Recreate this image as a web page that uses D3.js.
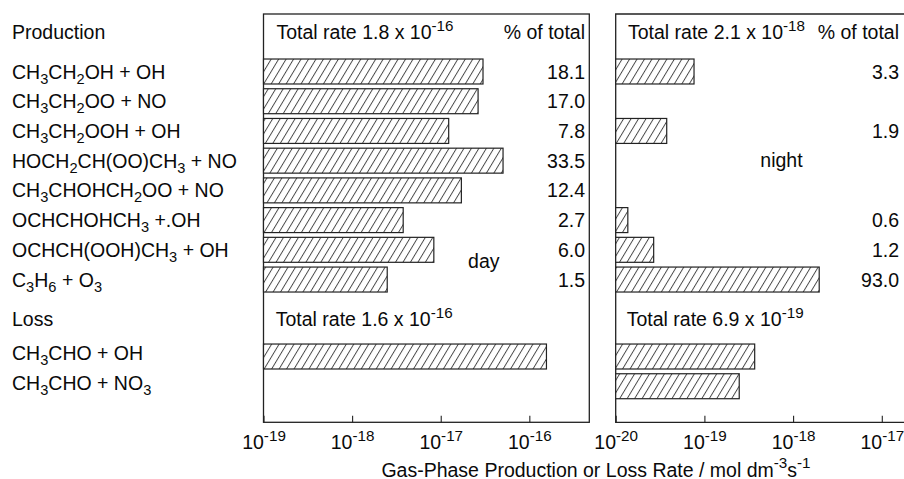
<!DOCTYPE html>
<html><head><meta charset="utf-8">
<script src="https://cdn.jsdelivr.net/npm/d3@7"></script>
<style>
body{margin:0;background:#fff}
svg text{font-family:"Liberation Sans",Arial,Helvetica,sans-serif;fill:#0a0a0a;font-size:19.5px}
</style>
</head><body>
<svg id="c" width="904" height="479"></svg>
<script>
// ---------------- data ----------------
const productionLabels = [
  "CH_3CH_2OH + OH",
  "CH_3CH_2OO + NO",
  "CH_3CH_2OOH + OH",
  "HOCH_2CH(OO)CH_3 + NO",
  "CH_3CHOHCH_2OO + NO",
  "OCHCHOHCH_3 +.OH",
  "OCHCH(OOH)CH_3 + OH",
  "C_3H_6 + O_3"
];
const lossLabels = ["CH_3CHO + OH", "CH_3CHO + NO_3"];

const dayProduction   = [3.0e-17, 2.64e-17, 1.23e-17, 5.05e-17, 1.71e-17, 3.77e-18, 8.36e-18, 2.49e-18];
const nightProduction = [7.64e-20, null, 3.76e-20, null, null, 1.37e-20, 2.68e-20, 1.97e-18];
const dayProductionPct   = ["18.1", "17.0", "7.8", "33.5", "12.4", "2.7", "6.0", "1.5"];
const nightProductionPct = ["3.3", "", "1.9", "", "", "0.6", "1.2", "93.0"];
const dayLoss   = [1.56e-16, null];
const nightLoss = [3.69e-19, 2.47e-19];

const dayTicks = [1e-19, 1e-18, 1e-17, 1e-16];
const nightTicks = [1e-20, 1e-19, 1e-18, 1e-17];
const dayTickLabels = ["10^{-19}", "10^{-18}", "10^{-17}", "10^{-16}"];
const nightTickLabels = ["10^{-20}", "10^{-19}", "10^{-18}", "10^{-17}"];

const dayProdHeader = "Total rate 1.8 x 10^{-16}";
const nightProdHeader = "Total rate 2.1 x 10^{-18}";
const dayLossHeader = "Total rate 1.6 x 10^{-16}";
const nightLossHeader = "Total rate 6.9 x 10^{-19}";
const pctHeader = "% of total";
const sectionTitles = ["Production", "Loss"];
const axisTitle = "Gas-Phase Production or Loss Rate / mol dm^{-3}s^{-1}";
const dayNote = {text: "day", value: 3.06e-17, slot: 6.61};
const nightNote = {text: "night", value: 7.4e-19, slot: 3.21};

// ---------------- layout ----------------
const svg = d3.select("#c");
const ink = "#222";
const panelTop = 14, axisY = 422.3;
const lossSlot0 = 9.59;
const xDay = d3.scaleLog().domain([1e-19, 4.75e-16]).range([263.5, 589.3]);
const xNight = d3.scaleLog().domain([1e-20, 1.875e-17]).range([615.7, 906]);
const yS = d3.scaleLinear().domain([0, 1]).range([71.5, 101.22]);
const bh = (yS(1) - yS(0)) * 0.84;

// hatch pattern
const defs = svg.append("defs");
const pat = defs.append("pattern").attr("id", "hatch")
  .attr("patternUnits", "userSpaceOnUse").attr("width", 6.4).attr("height", 20)
  .attr("patternTransform", "rotate(31)");
pat.append("rect").attr("width", 6.4).attr("height", 20).attr("fill", "#fff");
pat.append("line").attr("x1", 0.5).attr("x2", 0.5).attr("y1", 0).attr("y2", 20)
  .attr("stroke", "#333").attr("stroke-width", 0.9);

// rich text helper
function rich(sel, str) {
  const toks = str.match(/(_\{[^}]*\}|_.|\^\{[^}]*\}|[^_^]+)/g) || [];
  let shift = 0;
  toks.forEach(t => {
    let type = "n", txt = t;
    if (t[0] === "_") { type = "sub"; txt = t[1] === "{" ? t.slice(2, -1) : t.slice(1); }
    else if (t[0] === "^") { type = "sup"; txt = t.slice(2, -1); }
    const ts = sel.append("tspan").text(txt);
    let target = 0;
    if (type === "sub") { ts.attr("font-size", "75%"); target = 5; }
    else if (type === "sup") { ts.attr("font-size", "78%"); target = -8.5; }
    ts.attr("dy", target - shift);
    shift = target;
  });
}

// panel frames
svg.append("rect").attr("x", xDay.range()[0]).attr("y", panelTop)
  .attr("width", xDay.range()[1] - xDay.range()[0]).attr("height", axisY - panelTop)
  .attr("fill", "none").attr("stroke", ink).attr("stroke-width", 1.3);
svg.append("path")
  .attr("d", `M${xNight.range()[1]},${panelTop}H${xNight.range()[0]}V${axisY}H${xNight.range()[1]}`)
  .attr("fill", "none").attr("stroke", ink).attr("stroke-width", 1.3);

// bars
function drawBars(values, x, slotOffset) {
  const d = values.map((v, i) => ({v, slot: i + slotOffset})).filter(e => e.v != null);
  svg.append("g").selectAll("rect").data(d).join("rect")
    .attr("x", x.range()[0])
    .attr("y", e => yS(e.slot) - bh / 2)
    .attr("width", e => x(e.v) - x.range()[0])
    .attr("height", bh)
    .attr("fill", "url(#hatch)")
    .attr("stroke", ink).attr("stroke-width", 1.2);
}
drawBars(dayProduction, xDay, 0);
drawBars(nightProduction, xNight, 0);
drawBars(dayLoss, xDay, lossSlot0);
drawBars(nightLoss, xNight, lossSlot0);

// row labels
productionLabels.forEach((l, i) => {
  rich(svg.append("text").attr("x", 12).attr("y", yS(i) + 7), l);
});
lossLabels.forEach((l, i) => {
  rich(svg.append("text").attr("x", 12).attr("y", yS(i + lossSlot0) + 3.5), l);
});
svg.append("text").attr("x", 12).attr("y", yS(-1.09)).text(sectionTitles[0]);
svg.append("text").attr("x", 12).attr("y", yS(8.57)).text(sectionTitles[1]);

// percentages
dayProductionPct.forEach((p, i) => {
  svg.append("text").attr("x", 585).attr("y", yS(i) + 7).attr("text-anchor", "end").text(p);
});
nightProductionPct.forEach((p, i) => {
  if (p) svg.append("text").attr("x", 899).attr("y", yS(i) + 7).attr("text-anchor", "end").text(p);
});

// headers
rich(svg.append("text").attr("x", 276.5).attr("y", yS(-1.08)), dayProdHeader);
rich(svg.append("text").attr("x", 628).attr("y", yS(-1.08)), nightProdHeader);
rich(svg.append("text").attr("x", 275.7).attr("y", yS(8.58)), dayLossHeader);
rich(svg.append("text").attr("x", 626.7).attr("y", yS(8.58)), nightLossHeader);
svg.append("text").attr("x", 585).attr("y", yS(-1.08)).attr("text-anchor", "end").text(pctHeader);
svg.append("text").attr("x", 899).attr("y", yS(-1.08)).attr("text-anchor", "end").text(pctHeader);

// notes
svg.append("text").attr("x", xDay(dayNote.value)).attr("y", yS(dayNote.slot))
  .attr("text-anchor", "middle").text(dayNote.text);
svg.append("text").attr("x", xNight(nightNote.value)).attr("y", yS(nightNote.slot))
  .attr("text-anchor", "middle").text(nightNote.text);

// axes
function drawAxis(x, ticks, labels) {
  const g = svg.append("g").attr("transform", `translate(0,${axisY})`)
    .call(d3.axisBottom(x).tickValues(ticks).tickSizeInner(-6.5).tickSizeOuter(0).tickFormat(() => ""));
  g.select(".domain").remove();
  g.selectAll(".tick line").attr("stroke", ink).attr("stroke-width", 1.1);
  g.selectAll(".tick text").remove();
  g.selectAll(".tick").each(function(d, i) {
    const t = d3.select(this).append("text").attr("y", 27).attr("text-anchor", "middle");
    rich(t, labels[i]);
  });
}
drawAxis(xDay, dayTicks, dayTickLabels);
drawAxis(xNight, nightTicks, nightTickLabels);

rich(svg.append("text").attr("x", 596).attr("y", 476.5).attr("text-anchor", "middle"), axisTitle);
</script>
</body></html>
